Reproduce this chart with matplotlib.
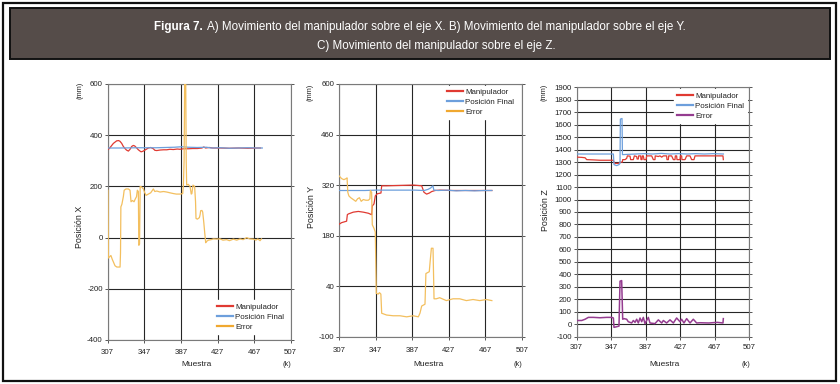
import matplotlib
matplotlib.use("Agg")
import matplotlib.pyplot as plt
from matplotlib.patches import Rectangle
from matplotlib.lines import Line2D

plt.rcParams['font.family'] = ['Liberation Sans', 'DejaVu Sans']
plt.rcParams['axes.unicode_minus'] = False

# ---------------- DATA ----------------
xticks = [307, 347, 387, 427, 467, 507]
yticks_x = [-400, -200, 0, 200, 400, 600]
yticks_y = [-100, 40, 180, 320, 460, 600]
yticks_z = list(range(-100, 2000, 100))
series_names = ["Manipulador", "Posición Final", "Error"]

# Panel A (eje X)
ax_man_x = [307.5, 308.8, 310.3, 313.2, 316.8, 319.0, 320.5, 322.3, 324.1, 325.9, 327.5, 329.6, 331.4,
            333.2, 335.0, 336.5, 338.7, 340.5, 342.3, 343.5, 345.3, 347.8, 351.4, 354.0, 356.9, 358.5,
            360.6, 364.2, 368.0, 371.5, 375.0, 378.8, 383.0, 386.0, 390.0, 395.0, 400.0, 405.0, 410.0,
            412.0, 414.0, 418.0, 422.0, 430.0, 440.0, 450.0, 460.0, 470.0, 474.0]
ay_man_x = [345, 348, 355, 368, 378, 379, 376, 368, 356, 348, 342, 338, 345,
            356, 360, 358, 350, 343, 338, 335, 337, 342, 350, 352, 347, 341,
            340, 342, 343, 343, 345, 344, 346, 345, 347, 347, 348, 348, 350,
            354, 350, 352, 350, 350, 349, 350, 349, 350, 350]
ax_fin_x = [307, 320, 340, 360, 380, 388, 395, 405, 415, 420, 430, 440, 450, 460, 470, 476]
ay_fin_x = [350, 350, 351, 351, 353, 355, 353, 352, 353, 350, 351, 349, 350, 351, 350, 350]
ax_err_x = [307.3, 307.7, 309.0, 310.5, 312.0, 313.2, 315.0, 317.0, 320.5, 321.0, 321.4, 322.5, 324.1,
            325.0, 327.0, 329.6, 331.4, 332.5, 334.0, 335.8, 337.0, 338.5, 339.4, 340.5, 341.0, 341.8,
            342.5, 344.0, 346.0, 347.5, 348.9, 351.4, 354.0, 356.9, 358.5, 360.6, 364.2, 368.0, 371.5,
            375.0, 378.8, 382.0, 386.0, 389.0, 389.7, 390.5, 391.2, 392.2, 392.8, 393.3, 395.0, 397.0,
            398.3, 399.0, 400.2, 402.0, 403.0, 403.5, 405.0, 407.2, 408.0, 408.6, 410.0, 410.8, 412.0,
            413.0, 414.1, 415.0, 417.0, 420.0, 422.5, 426.0, 429.8, 433.0, 437.0, 440.0, 444.3, 448.0,
            451.6, 455.0, 458.9, 462.0, 466.2, 469.0, 471.0, 473.5, 475.0]
ay_err_x = [185, -80, -75, -70, -85, -95, -110, -115, -115, -60, 120, 130, 160,
            185, 190, 190, 185, 140, 145, 140, 150, 160, 185, 180, -30, -25,
            200, 198, 190, 175, 165, 170, 175, 190, 180, 182, 178, 180, 178,
            175, 172, 170, 170, 172, 205, 300, 650, 650, 300, 205, 208, 200,
            170, 172, 205, 200, 140, 75, 72, 78, 90, 105, 106, 100, 60,
            20, -20, -15, -10, -8, -5, -6, -5, -10, -8, -12, -6, -10,
            -5, -8, 0, -5, -6, -10, -5, -12, -5]

# Panel B (eje Y)
bx_man_y = [307, 309.6, 315, 315.8, 316.9, 322.3, 327.8, 333.3, 338.8, 342.4, 343.1, 345, 346.4, 348.6,
            352.6, 353.4, 358.8, 373.4, 388, 397.2, 399.7, 402.6, 405.6, 408.1, 411.8, 417.2, 430,
            445, 460, 474]
by_man_y = [212, 216, 220, 238, 240, 245, 247, 245, 242, 238, 262, 268, 290, 296,
            298, 318, 318, 319, 320, 318, 300, 295, 298, 302, 305, 306, 305,
            305, 305, 305]
bx_fin_y = [307, 320, 335, 347, 360, 375, 390, 400, 404, 407, 409.5, 410.5, 415, 425, 435, 445, 455,
            465, 474]
by_fin_y = [305, 305, 305, 306, 306, 306, 306, 305, 308, 312, 318, 306, 305, 306, 304, 305, 304,
            305, 305]
bx_err_y = [307, 309.5, 312, 314.5, 315.5, 316.3, 317.5, 319.5, 322.3, 325, 327, 329, 331, 333.3, 336,
            338.8, 340.5, 341, 342.4, 343.1, 345, 346.4, 347.5, 349.5, 351.0, 352.5, 353.4, 358.8,
            366, 373.4, 380.7, 388, 393.5, 395.3, 397.2, 400.8, 401.8, 405.5, 406.5, 407.8, 409.6,
            410.7, 413.2, 416.9, 424.2, 431.5, 438.8, 446.1, 453.4, 460.7, 468, 474]
by_err_y = [345, 338, 335, 338, 340, 300, 290, 285, 280, 275, 282, 285, 275, 280, 278,
            278, 282, 305, 300, 210, 200, 190, 20, 18, 22, 18, -35, -40,
            -42, -42, -45, -42, -45, -35, -15, -10, 75, 80, 110, 145, 145,
            5, 5, 8, 0, 5, 5, 0, 3, 0, 3, 0]

# Panel C (eje Z)
cx_man_z = [307, 312.8, 316.7, 318.6, 326, 334, 341.7, 349.5, 350.2, 351.4, 355.3, 357.2, 359.9, 360.3,
            363, 364.9, 365.7, 368.8, 369.5, 372.6, 373.8, 376.5, 377.0, 378.4, 378.8, 381.1, 381.5,
            382.7, 383.0, 384.2, 385, 387.3, 388.1, 393.9, 395.8, 397.7, 398.0, 401.6, 403.5, 405.5,
            407.4, 411.2, 411.6, 413.2, 413.6, 417, 419, 420.9, 421.3, 422.8, 423.2, 426.7, 427.1,
            428.6, 429.0, 432.5, 434.4, 438.3, 440.2, 442.9, 444.1, 460, 470, 476.5, 476.9]
cy_man_z = [1340, 1338, 1335, 1320, 1318, 1315, 1315, 1315, 1300, 1290, 1290, 1300, 1300, 1320,
            1320, 1330, 1350, 1348, 1320, 1320, 1350, 1345, 1325, 1325, 1350, 1350, 1320,
            1320, 1350, 1350, 1320, 1320, 1350, 1350, 1320, 1320, 1350, 1345, 1350, 1340,
            1350, 1350, 1320, 1320, 1350, 1350, 1320, 1320, 1350, 1350, 1320, 1320, 1350,
            1350, 1320, 1320, 1350, 1350, 1320, 1320, 1350, 1350, 1350, 1350, 1320]
cx_fin_z = [307, 320, 335, 349.5, 350.2, 353.3, 356, 357.2, 357.6, 359.5, 360.0, 365, 375, 385, 395,
            405, 415, 425, 435, 445, 455, 465, 477]
cy_fin_z = [1365, 1365, 1365, 1365, 1280, 1272, 1280, 1290, 1645, 1650, 1360, 1362, 1365, 1368, 1365,
            1370, 1365, 1368, 1365, 1368, 1365, 1368, 1365]
cx_err_z = [307, 312.8, 316.7, 320.5, 326.3, 334, 341.7, 347.5, 349.5, 350.2, 353.3, 356.0, 357.2,
            359.1, 360.3, 361.8, 364.9, 366.8, 370.7, 372.6, 374.6, 376.5, 378.4, 380.4, 382.3,
            384.2, 386.1, 390.0, 391.9, 397.7, 401.6, 405.5, 407.4, 411.2, 415.1, 419, 422.8,
            426.7, 428.6, 431.3, 434.4, 438.3, 442.1, 446, 449.9, 460, 470, 476.5, 476.9]
cy_err_z = [30, 30, 40, 55, 55, 52, 55, 55, 50, -25, -20, -15, 345,
            350, 40, 45, 40, 20, 10, 30, 15, 40, 10, 50, 20,
            55, 5, 55, 10, 5, 35, 10, 30, 10, 35, 10, 50,
            20, 40, 10, 45, 10, 40, 10, 12, 10, 15, 10, 45]

# ---------------- STYLE ----------------
W, H = 840, 384
C_RED = '#e03a32'
C_BLUE = '#6d9fdc'
C_ORANGE = '#f3bf5e'
C_ORANGE_LEG = '#f0a830'
C_PURPLE = '#953c90'
FS = 5.7

fig = plt.figure(figsize=(W / 100, H / 100), dpi=100)
fig.patch.set_facecolor('white')


def rect(l, t, r, b):
    return [l / W, 1 - b / H, (r - l) / W, (b - t) / H]


def ftext(x, y, s, **kw):
    return fig.text(x / W, 1 - y / H, s, **kw)


# outer frame and title box
fig.patches.append(Rectangle((2.5 / W, 1 - 381 / H), 833 / W, 378 / H, transform=fig.transFigure,
                             fill=False, edgecolor='#111111', linewidth=1.6))
fig.patches.append(Rectangle((10 / W, 1 - 58.5 / H), 820 / W, 50 / H, transform=fig.transFigure,
                             facecolor='#554c49', edgecolor='#111111', linewidth=1.4))

panels = [
    dict(r=rect(107.7, 84, 290.7, 340), ylim=(-400, 600), yt=yticks_x, ylab='Posición X',
         data=[(ax_man_x, ay_man_x), (ax_fin_x, ay_fin_x), (ax_err_x, ay_err_x)], ecol=C_ORANGE,
         elegcol=C_ORANGE_LEG, leg=(0.579, 0.155), xpad=4.0, ylx=80, yly=227, mmx=80.5, mmy=90,
         mx=197, kx=287, elw=0.9),
    dict(r=rect(339.3, 84, 522, 336.7), ylim=(-100, 600), yt=yticks_y, ylab='Posición Y',
         data=[(bx_man_y, by_man_y), (bx_fin_y, by_fin_y), (bx_err_y, by_err_y)], ecol=C_ORANGE,
         elegcol=C_ORANGE_LEG, leg=(0.571, 0.994), xpad=5.3, ylx=311, yly=207, mmx=310.5, mmy=92,
         mx=429, kx=518, elw=0.9),
    dict(r=rect(576.7, 87.3, 749.3, 336.7), ylim=(-100, 1900), yt=yticks_z, ylab='Posición Z',
         data=[(cx_man_z, cy_man_z), (cx_fin_z, cy_fin_z), (cx_err_z, cy_err_z)], ecol=C_PURPLE,
         elegcol=C_PURPLE, leg=(0.561, 0.992), xpad=3.0, ylx=546, yly=210, mmx=544.5, mmy=92,
         mx=664, kx=746, elw=1.1),
]

for p in panels:
    ax = fig.add_axes(p['r'])
    ax.set_xlim(307, 507)
    ax.set_ylim(*p['ylim'])
    ax.set_xticks(xticks)
    ax.set_yticks(p['yt'])
    ax.grid(True, color='#262626', linewidth=0.8)
    ax.set_axisbelow(True)
    for s in ax.spines.values():
        s.set_color('#7a7a7a')
        s.set_linewidth(0.8)
    ax.tick_params(axis='both', direction='out', length=2.4, width=0.7, color='#555555',
                   labelsize=FS, labelcolor='#222222')
    ax.tick_params(axis='y', right=True, pad=1.2)
    ax.tick_params(axis='x', pad=p['xpad'])
    cols = [C_RED, C_BLUE, p['ecol']]
    lcols = [C_RED, C_BLUE, p['elegcol']]
    lws = [0.9, 0.9, p['elw']]
    for i in [2, 1, 0]:
        xs, ys = p['data'][i]
        ax.plot(xs, ys, color=cols[i], linewidth=lws[i], zorder=3 + i * 0.1)
    handles = [Line2D([], [], color=lcols[i], linewidth=1.6) for i in range(3)]
    leg = ax.legend(handles, series_names, loc='upper left', bbox_to_anchor=p['leg'],
                    borderaxespad=0, fontsize=FS, frameon=True, fancybox=False,
                    facecolor='white', edgecolor='white', framealpha=1.0,
                    handlelength=2.0, handletextpad=0.35, labelspacing=0.28, borderpad=0.4)
    leg.set_zorder(10)
    for t in leg.get_texts():
        t.set_color('#222222')
    ftext(p['ylx'], p['yly'], p['ylab'], rotation=90, ha='center', va='center', fontsize=6.4,
          color='#222222')
    ftext(p['mmx'], p['mmy'], '(mm)', rotation=90, ha='center', va='center', fontsize=5.3,
          color='#222222')
    ftext(p['mx'], 365, 'Muestra', ha='center', va='center', fontsize=6.0, color='#222222')
    ftext(p['kx'], 365, '(k)', ha='center', va='center', fontsize=5.3, color='#222222')

# title (bold part + normal part)
fig.canvas.draw()
r = fig.canvas.get_renderer()
TFS = 8.4
line1_b = 'Figura 7.'
line1_n = 'A) Movimiento del manipulador sobre el eje X. B) Movimiento del manipulador sobre el eje Y.'
line2 = 'C) Movimiento del manipulador sobre el eje Z.'
tb = ftext(0, 27, line1_b, fontsize=TFS, weight='bold', color='white', ha='left', va='center')
tn = ftext(0, 27, line1_n, fontsize=TFS, color='white', ha='left', va='center')
wb = tb.get_window_extent(r).width
wn = tn.get_window_extent(r).width
gap = 3.5
total = wb + gap + wn
start = 420 - total / 2
tb.set_x(start / W)
tn.set_x((start + wb + gap) / W)
ftext(436, 46, line2, fontsize=TFS, color='white', ha='center', va='center')

fig.savefig('out.png', dpi=100, facecolor='white')
